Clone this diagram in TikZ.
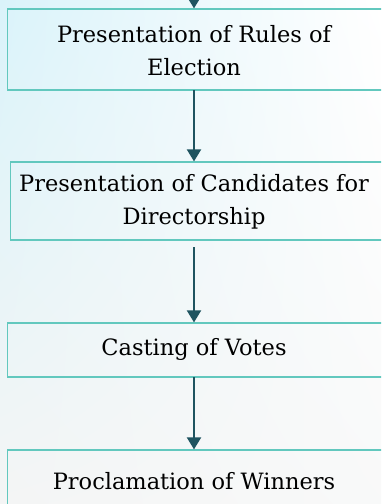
\documentclass[tikz,border=0pt]{standalone}
\usepackage{fontspec}
\setmainfont{DejaVu Serif}
\usetikzlibrary{arrows.meta,shadings}
\definecolor{boxline}{RGB}{98,200,190}
\definecolor{arrowc}{RGB}{31,84,96}
\definecolor{bgblue}{RGB}{218,243,250}
\definecolor{bggrey}{RGB}{244,245,245}
\tikzset{
  x=1pt,y=1pt,
  stepbox/.style={draw=boxline, line width=1.2pt, rectangle, minimum width=388pt, anchor=west, inner sep=0pt},
  steptext/.style={align=center, inner sep=0pt, font=\fontsize{22.5}{33}\selectfont},
  flow/.style={draw=arrowc, line width=2pt, -{Triangle[width=14pt,length=12pt]}}
}
\begin{document}
\begin{tikzpicture}
\useasboundingbox (0,0) rectangle (381,-504);
\clip (0,0) rectangle (381,-504);
\shade[upper left=bgblue, upper right=white, lower left=bggrey, lower right=bggrey!60!white] (0,0) rectangle (381,-504);
\node[stepbox, minimum height=81pt] (b1) at (7,-49.5) {};
\node[steptext] (t1) at (194,-51) {Presentation of Rules of\\Election};
\node[stepbox, minimum height=78pt] (b2) at (10,-201) {};
\node[steptext] (t2) at (194,-202) {Presentation of Candidates for\\Directorship};
\node[stepbox, minimum height=54pt] (b3) at (7,-350) {};
\node[steptext] (t3) at (194,-349) {Casting of Votes};
\node[stepbox, minimum height=66pt] (b4) at (7,-483) {};
\node[steptext] (t4) at (194,-481) {Proclamation of Winners};
\coordinate (top) at (194,20);
\coordinate (a1s) at (194,-90);
\coordinate (a2s) at (194,-247);
\coordinate (a3s) at (194,-377);
\draw[flow] (top) -- (top |- b1.north);
\draw[flow] (a1s) -- (a1s |- b2.north);
\draw[flow] (a2s) -- (a2s |- b3.north);
\draw[flow] (a3s) -- (a3s |- b4.north);
\end{tikzpicture}
\end{document}
